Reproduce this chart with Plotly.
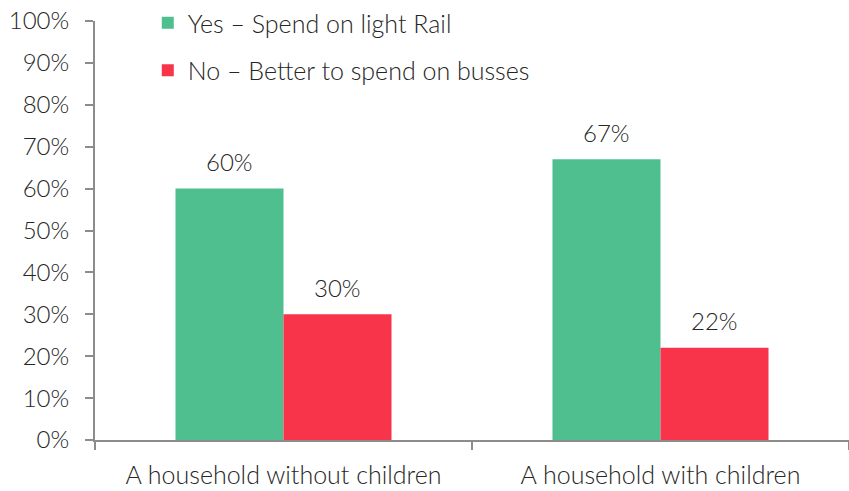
import plotly.graph_objects as go

categories = ["A household without children", "A household with children"]
yes_values = [60, 67]
no_values = [30, 22]
series_names = ["Yes – Spend on light Rail", "No – Better to spend on busses"]
y_ticks = list(range(0, 101, 10))
y_tick_labels = [f"{v}%" for v in y_ticks]

GREEN = "#50BF8F"
RED = "#F8344A"
TEXT = "#262626"
AXIS = "#8C8C8C"
FONT = "Lato"

fig = go.Figure()
fig.add_trace(go.Bar(x=categories, y=yes_values, name=series_names[0],
                     marker=dict(color=GREEN, line=dict(width=0)),
                     legendgroup="a"))
fig.add_trace(go.Bar(x=categories, y=no_values, name=series_names[1],
                     marker=dict(color=RED, line=dict(width=0)),
                     legendgroup="b"))

# value labels above each bar
for vals, shift in ((yes_values, -54), (no_values, 54)):
    for cat, v in zip(categories, vals):
        fig.add_annotation(x=cat, y=v, text=f"{v}%", showarrow=False,
                           xshift=shift, yshift=27, yanchor="middle",
                           font=dict(family=FONT, size=24, color=TEXT, weight=300))

fig.update_layout(
    width=849, height=491,
    margin=dict(l=95, r=0, t=20, b=51),
    paper_bgcolor="white", plot_bgcolor="white",
    barmode="group", bargap=0.427, bargroupgap=0,
    font=dict(family=FONT, size=24, color=TEXT, weight=300),
    showlegend=True,
    legend=dict(x=0.07, y=1.05, xanchor="left", yanchor="top",
                font=dict(family=FONT, size=25, color=TEXT, weight=300),
                tracegroupgap=12, bgcolor="rgba(0,0,0,0)"),
    xaxis=dict(showline=True, linecolor=AXIS, linewidth=2,
               ticks="outside", tickson="boundaries", ticklen=8,
               tickcolor=AXIS, tickwidth=2, showgrid=False,
               ticklabelstandoff=12,
               tickfont=dict(family=FONT, size=25, color=TEXT, weight=300)),
    yaxis=dict(range=[0, 100], tickvals=y_ticks, ticktext=y_tick_labels,
               showline=True, linecolor=AXIS, linewidth=2,
               ticks="outside", ticklen=8, tickcolor=AXIS, tickwidth=2,
               showgrid=False, zeroline=False, ticklabelstandoff=11,
               tickfont=dict(family=FONT, size=24, color=TEXT, weight=300)),
)

fig.write_html("out.html")
